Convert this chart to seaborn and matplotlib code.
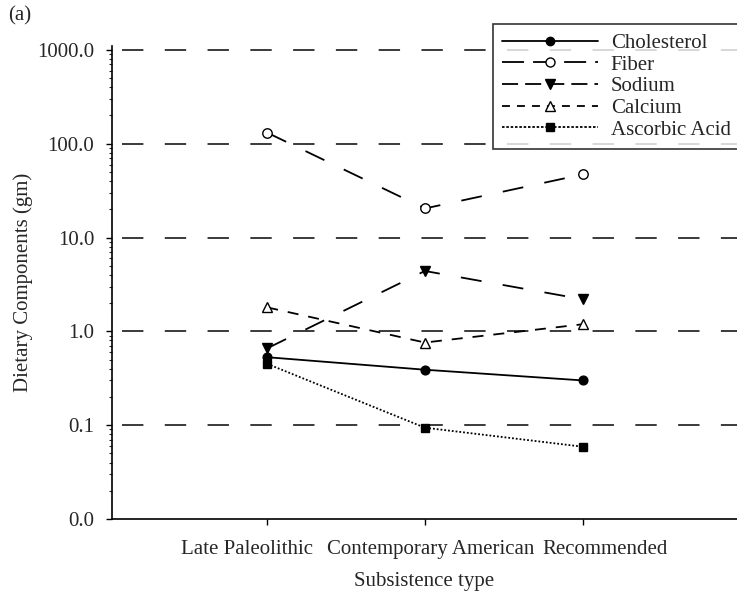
import matplotlib
matplotlib.use("Agg")
import matplotlib.pyplot as plt
import matplotlib.transforms as mtransforms
from matplotlib.lines import Line2D
import seaborn as sns
import pandas as pd
import numpy as np
from matplotlib.ticker import FixedLocator, LogLocator, NullFormatter

sns.set_theme(style="white")
plt.rcParams['font.family'] = ['Liberation Serif', 'DejaVu Serif']

categories = ["Late Paleolithic", "Contemporary American", "Recommended"]
cholesterol = [0.53, 0.39, 0.30]
fiber = [131, 20.4, 47]
sodium = [0.66, 4.4, 2.2]
calcium = [1.8, 0.76, 1.19]
ascorbic = [0.45, 0.094, 0.059]
series_names = ["Cholesterol", "Fiber", "Sodium", "Calcium", "Ascorbic Acid"]
series_vals = [cholesterol, fiber, sodium, calcium, ascorbic]
ytick_vals = [0.01, 0.1, 1, 10, 100, 1000]
ytick_labels = ["0.0", "0.1", "1.0", "10.0", "100.0", "1000.0"]

LW = 1.3
styles = {
    "Cholesterol": dict(ls="-", leg_ls="-", marker="o", mfc="black", ms=6.3),
    "Fiber": dict(ls=(0, (11.6, 11.9)), leg_ls=(0, (12.2, 5.0)), marker="o", mfc="white", ms=6.8),
    "Sodium": dict(ls=(0, (11.6, 11.9)), leg_ls=(0, (8.9, 3.9)), marker="v", mfc="black", ms=6.8),
    "Calcium": dict(ls=(0, (6.1, 5.5)), leg_ls=(0, (4.4, 3.9)), marker="^", mfc="white", ms=7.2),
    "Ascorbic Acid": dict(ls=(0, (1.0, 1.1)), leg_ls=(0, (1.4, 1.0)), marker="s", mfc="black", ms=6.0),
}

rows = []
for name, vals in zip(series_names, series_vals):
    for i, v in enumerate(vals):
        rows.append(dict(series=name, x=i, value=v))
df = pd.DataFrame(rows)

fig = plt.figure(figsize=(7.37, 5.95), dpi=100)
ax = fig.add_axes([112/737, 1-519/595, 1-112/737, (519-46)/595])
ax.set_yscale("log")

# dashed horizontal reference lines
for v in [0.1, 1, 10, 100, 1000]:
    ax.axhline(v, color="#3a3a3a", lw=1.4, ls=(0, (11.0, 11.0)), zorder=0, xmin=0.016)

handles = []
for name in series_names:
    st = styles[name]
    sub = df[df.series == name]
    sns.lineplot(data=sub, x="x", y="value", ax=ax, color="black", lw=LW,
                 linestyle=st["ls"], marker=st["marker"], markerfacecolor=st["mfc"],
                 markeredgecolor="black", markersize=st["ms"], markeredgewidth=1.0,
                 label=name, legend=False)
    handles.append(Line2D([], [], color="black", lw=LW, linestyle=st["leg_ls"],
                          marker=st["marker"], markerfacecolor=st["mfc"],
                          markeredgecolor="black", markersize=st["ms"] - 0.3,
                          markeredgewidth=1.0))

ax.set_xlim(-0.985, 2.98)
ax.set_ylim(0.01, 1100)
ax.set_xticks([0, 1, 2])
ax.set_xticklabels(categories, fontsize=15)
ax.yaxis.set_major_locator(FixedLocator(ytick_vals))
ax.set_yticklabels(ytick_labels, fontsize=15)
ax.yaxis.set_minor_locator(LogLocator(base=10, subs=np.arange(2, 10)))
ax.yaxis.set_minor_formatter(NullFormatter())
ax.tick_params(axis="y", which="major", direction="out", length=4.3, width=1, color="black",
               left=True, pad=8.4)
ax.tick_params(axis="x", which="major", direction="out", length=4.3, width=1, color="black",
               bottom=True, pad=10.5)
ax.tick_params(axis="y", which="minor", direction="out", length=2.5, width=0.8, left=True)
for sp in ["top", "right"]:
    ax.spines[sp].set_visible(False)
for sp in ["left", "bottom"]:
    ax.spines[sp].set_color("black")
    ax.spines[sp].set_linewidth(1.2)

# shift category labels so they read as one line, as in the original
shifts = [-20, 6, 23]
for lab, dx in zip(ax.get_xticklabels(), shifts):
    lab.set_transform(lab.get_transform() + mtransforms.ScaledTranslation(dx/100, 0, fig.dpi_scale_trans))

ax.set_xlabel("Subsistence type", fontsize=15, labelpad=9.5)
ax.set_ylabel("Dietary Components (gm)", fontsize=15, labelpad=3)

leg = fig.legend(handles=handles, labels=series_names, loc="upper left",
                 bbox_to_anchor=(493/737, 1-24/595), fontsize=15, frameon=True,
                 fancybox=False, edgecolor="black", handlelength=4.6, handletextpad=0.6,
                 labelspacing=0.1, borderpad=0.45, borderaxespad=0)
leg.get_frame().set_linewidth(1.2)

fig.text(8/737, 1-16/595, "(a)", fontsize=15, va="center", ha="left")

fig.savefig("out.png", dpi=100)
